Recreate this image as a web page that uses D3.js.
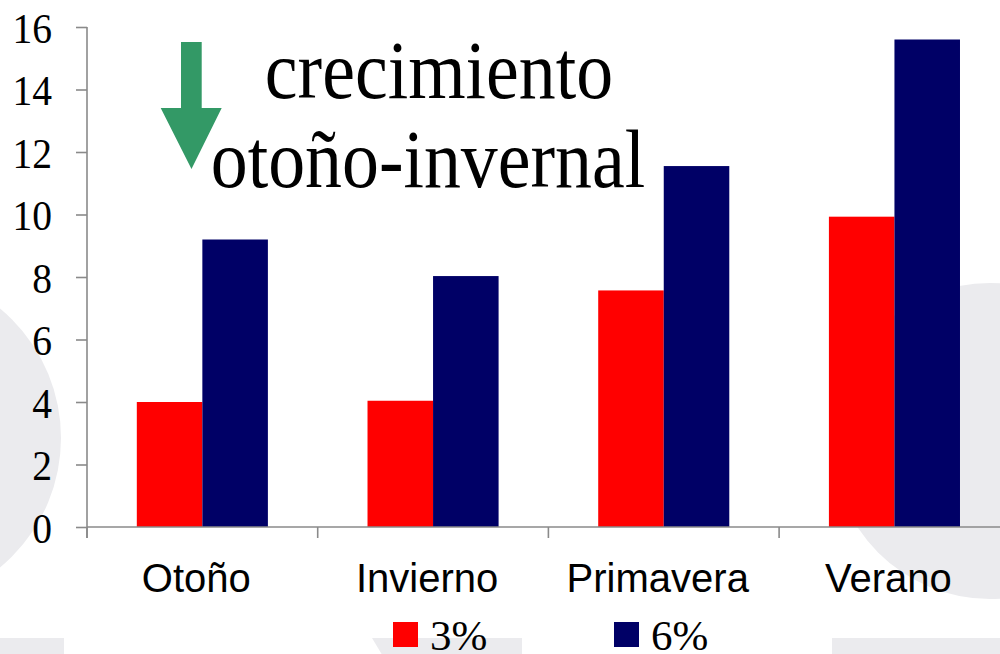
<!DOCTYPE html>
<html>
<head>
<meta charset="utf-8">
<script src="https://cdn.jsdelivr.net/npm/d3@7"></script>
<style>
  html, body { margin: 0; padding: 0; background: #ffffff; }
  svg { display: block; }
  .serif { font-family: "Times New Roman", "Liberation Serif", Times, serif; }
  .sans { font-family: Arial, "Liberation Sans", Helvetica, sans-serif; }
</style>
</head>
<body>
<svg id="chart" width="1000" height="654"></svg>
<script>
// Seasonal growth at two application rates
const seasons = ["Otoño", "Invierno", "Primavera", "Verano"];
const seriesNames = ["3%", "6%"];
const values3 = [4.0, 4.04, 7.57, 9.93];
const values6 = [9.2, 8.03, 11.55, 15.6];
const yTicks = [0, 2, 4, 6, 8, 10, 12, 14, 16];
const seriesColors = ["#ff0000", "#000066"];

const svg = d3.select("#chart");

// Decorative light-grey backdrop shapes
const bg = svg.append("g").attr("fill", "#ebebee");
bg.append("circle").attr("cx", -107).attr("cy", 438).attr("r", 168);
bg.append("circle").attr("cx", 990).attr("cy", 441).attr("r", 158);
bg.append("rect").attr("x", 0).attr("y", 638).attr("width", 64).attr("height", 20);
bg.append("path").attr("d", "M372,638 L522,638 L522,658 L384,658 Z");
bg.append("rect").attr("x", 832).attr("y", 638).attr("width", 170).attr("height", 20);

// Scales
const x0 = d3.scaleBand().domain(seasons).range([87, 1009.8]).paddingInner(0).paddingOuter(0);
const x1 = d3.scaleBand().domain(seriesNames).range([0, x0.bandwidth()]).paddingInner(0).paddingOuter(0.76);
const y = d3.scaleLinear().domain([0, 16]).range([527, 27]);

const rows = seasons.map((s, i) => ({ season: s, vals: [values3[i], values6[i]] }));

// Bars
const groups = svg.append("g").selectAll("g")
  .data(rows).join("g")
  .attr("transform", d => `translate(${x0(d.season)},0)`);
groups.selectAll("rect")
  .data(d => d.vals.map((v, j) => ({ name: seriesNames[j], v, j })))
  .join("rect")
  .attr("x", d => x1(d.name))
  .attr("width", x1.bandwidth())
  .attr("y", d => y(d.v))
  .attr("height", d => y(0) - y(d.v))
  .attr("fill", d => seriesColors[d.j]);

const axisColor = "#8a8a8a";

// Y axis
const yAxis = svg.append("g")
  .attr("transform", "translate(87,0)")
  .call(d3.axisLeft(y).tickValues(yTicks).tickSize(11).tickPadding(0).tickFormat(d3.format("d")));
yAxis.attr("font-family", null).attr("font-size", null);
yAxis.select(".domain").attr("stroke", axisColor).attr("stroke-width", 1.6)
  .attr("d", "M0,27V538");
yAxis.selectAll(".tick line").attr("stroke", axisColor).attr("stroke-width", 1.6);
yAxis.selectAll(".tick text").remove();
yAxis.selectAll(".tick").append("text")
  .attr("class", "serif")
  .attr("transform", "translate(-35,0) scale(0.92,1)")
  .attr("dy", "0.36em")
  .attr("text-anchor", "end")
  .attr("fill", "#000")
  .style("font-size", "43px")
  .text(d => d);

// X axis
const xAxisG = svg.append("g");
xAxisG.append("line")
  .attr("x1", 87).attr("x2", 1010).attr("y1", y(0)).attr("y2", y(0))
  .attr("stroke", axisColor).attr("stroke-width", 1.6);
xAxisG.selectAll("line.tick")
  .data(seasons.concat(["end"])).join("line")
  .attr("class", "tick")
  .attr("x1", (d, i) => x0.range()[0] + i * x0.step())
  .attr("x2", (d, i) => x0.range()[0] + i * x0.step())
  .attr("y1", y(0)).attr("y2", y(0) + 11)
  .attr("stroke", axisColor).attr("stroke-width", 1.6);
xAxisG.selectAll("text")
  .data(seasons).join("text")
  .attr("class", "sans")
  .attr("x", d => x0(d) + x0.bandwidth() / 2 - 6)
  .attr("y", 592)
  .attr("text-anchor", "middle")
  .attr("fill", "#000")
  .style("font-size", "40px")
  .text(d => d);

// Legend
const legend = svg.append("g");
const legendX = [393, 614];
seriesNames.forEach((name, i) => {
  legend.append("rect")
    .attr("x", legendX[i]).attr("y", 622)
    .attr("width", 25).attr("height", 25)
    .attr("fill", seriesColors[i]);
  legend.append("text")
    .attr("class", "serif")
    .attr("x", legendX[i] + 37).attr("y", 650)
    .attr("fill", "#000")
    .style("font-size", "43px")
    .text(name);
});

// Annotation: downward arrow and caption
svg.append("path")
  .attr("d", "M181,42 L201.7,42 L201.7,108 L221.7,108 L191.5,169 L160.7,108 L181,108 Z")
  .attr("fill", "#339966");

const note = svg.append("g")
  .attr("class", "serif")
  .style("font-size", "82px")
  .attr("fill", "#000");
note.append("text")
  .attr("transform", "translate(439,98) scale(0.9,1)")
  .attr("text-anchor", "middle")
  .text("crecimiento");
note.append("text")
  .attr("transform", "translate(428,187) scale(0.9,1)")
  .attr("text-anchor", "middle")
  .text("otoño-invernal");
</script>
</body>
</html>
